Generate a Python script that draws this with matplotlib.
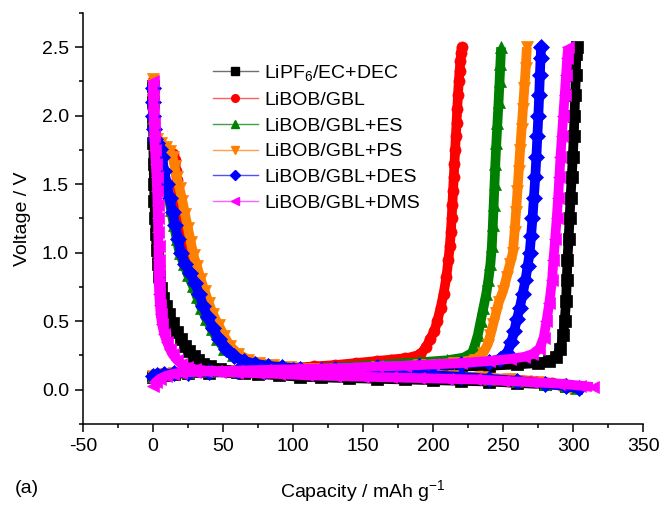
import matplotlib
matplotlib.use("Agg")
import matplotlib.pyplot as plt
from matplotlib.lines import Line2D

plt.rcParams['font.family'] = ['Liberation Sans', 'DejaVu Sans']
plt.rcParams['mathtext.default'] = 'regular'
plt.rcParams['axes.unicode_minus'] = False

labels = ['LiPF$_6$/EC+DEC', 'LiBOB/GBL', 'LiBOB/GBL+ES', 'LiBOB/GBL+PS',
          'LiBOB/GBL+DES', 'LiBOB/GBL+DMS']
colors = ['#000000', '#FF0000', '#008000', '#FF8000', '#0000FF', '#FF00FF']
markers = ['s', 'o', '^', 'v', 'D', '<']

# ---- first discharge (lithiation) branches: capacity (mAh/g), voltage (V)
dis_black_cap = [0, 0, 0.1, 0.3, 0.5, 0.8, 1.1, 1.5, 2, 2.7, 3.5, 4.5, 5.7, 7, 9, 11.5, 14, 17, 20, 23, 26, 29, 32, 36, 41, 48, 56, 65, 75, 90, 105, 120, 140, 160, 180, 200, 220, 240, 260, 280, 295, 302]
dis_black_v = [2.22, 2.1, 1.95, 1.8, 1.65, 1.5, 1.38, 1.25, 1.14, 1.02, 0.92, 0.83, 0.74, 0.67, 0.61, 0.55, 0.49, 0.42, 0.37, 0.32, 0.285, 0.245, 0.215, 0.19, 0.17, 0.15, 0.135, 0.125, 0.115, 0.105, 0.095, 0.09, 0.085, 0.08, 0.075, 0.07, 0.065, 0.06, 0.05, 0.04, 0.03, 0.02]

dis_red_cap = [0, 0, 0.3, 0.7, 1.5, 3, 5, 8, 11, 14, 16, 16.5, 17, 18.5, 20, 22, 24, 26.5, 29, 32, 35, 38, 41, 45, 49, 54, 60, 66, 74, 84, 95, 110, 130, 150, 170, 190, 210, 230, 250, 270, 285, 295]
dis_red_v = [2.25, 2.15, 2.05, 1.95, 1.87, 1.82, 1.79, 1.76, 1.74, 1.72, 1.68, 1.6, 1.53, 1.42, 1.32, 1.2, 1.1, 1.0, 0.9, 0.8, 0.7, 0.61, 0.53, 0.45, 0.38, 0.31, 0.26, 0.22, 0.19, 0.17, 0.16, 0.15, 0.14, 0.13, 0.12, 0.11, 0.1, 0.09, 0.08, 0.065, 0.05, 0.03]

dis_green_cap = [0, 0, 0.3, 0.8, 2, 4, 6, 7.5, 9, 11, 13, 15, 17, 19, 22, 25, 28.5, 31.5, 34.5, 38, 42, 46, 51, 57, 64, 72, 82, 92, 105, 120, 140, 160, 180, 200, 220, 240, 260, 280, 295, 302]
dis_green_v = [2.2, 2.1, 1.98, 1.88, 1.82, 1.78, 1.72, 1.62, 1.52, 1.42, 1.31, 1.2, 1.1, 1.0, 0.92, 0.84, 0.76, 0.68, 0.6, 0.52, 0.44, 0.37, 0.3, 0.25, 0.21, 0.19, 0.175, 0.165, 0.155, 0.145, 0.135, 0.125, 0.115, 0.105, 0.095, 0.08, 0.065, 0.045, 0.025, 0.01]

dis_orange_cap = [0, 0, 0.3, 0.7, 1.5, 3, 6, 9, 12, 14, 15.5, 17, 19, 21, 23, 25, 27, 29, 31.5, 34, 37, 40, 43, 47, 51, 55, 61, 68, 76, 86, 98, 115, 135, 155, 175, 195, 215, 235, 255, 275, 290, 298]
dis_orange_v = [2.27, 2.15, 2.05, 1.95, 1.87, 1.83, 1.8, 1.77, 1.74, 1.7, 1.63, 1.55, 1.47, 1.38, 1.28, 1.18, 1.08, 0.98, 0.9, 0.81, 0.72, 0.63, 0.55, 0.47, 0.39, 0.32, 0.26, 0.22, 0.195, 0.18, 0.165, 0.155, 0.145, 0.135, 0.125, 0.115, 0.1, 0.09, 0.075, 0.055, 0.035, 0.015]

dis_blue_cap = [0, 0, 0.3, 0.7, 1.5, 3, 5, 6.5, 8, 10, 12, 14, 16, 18, 20, 23, 26.5, 30, 33, 36, 39, 43, 47, 52, 58, 65, 73, 82, 92, 105, 120, 140, 160, 180, 200, 220, 240, 260, 280, 295, 304]
dis_blue_v = [2.2, 2.1, 2.0, 1.9, 1.83, 1.8, 1.76, 1.7, 1.6, 1.5, 1.4, 1.3, 1.2, 1.1, 1.0, 0.92, 0.85, 0.78, 0.7, 0.61, 0.53, 0.45, 0.37, 0.3, 0.245, 0.21, 0.19, 0.175, 0.165, 0.155, 0.145, 0.135, 0.125, 0.115, 0.105, 0.095, 0.08, 0.065, 0.045, 0.025, 0.01]

dis_mag_cap = [0, 0, 0.3, 0.6, 1, 1.5, 2, 2.6, 3, 3.3, 3.6, 3.8, 4, 4, 4, 4.2, 4.5, 5, 5.5, 6.5, 8, 10, 12, 14, 17, 20, 24, 30, 38, 48, 60, 75, 90, 110, 130, 150, 170, 190, 210, 230, 250, 270, 290, 305, 314]
dis_mag_v = [2.25, 2.15, 2.05, 1.95, 1.85, 1.75, 1.65, 1.55, 1.45, 1.35, 1.25, 1.15, 1.05, 0.95, 0.87, 0.78, 0.7, 0.62, 0.55, 0.48, 0.41, 0.35, 0.3, 0.26, 0.22, 0.19, 0.165, 0.15, 0.14, 0.13, 0.125, 0.12, 0.115, 0.105, 0.1, 0.095, 0.09, 0.085, 0.08, 0.075, 0.065, 0.055, 0.045, 0.03, 0.02]

# ---- first charge (delithiation) branches
chg_black_cap = [0, 3, 8, 15, 25, 40, 60, 80, 100, 120, 140, 160, 180, 200, 220, 240, 260, 275, 283, 288, 291, 293, 294, 295, 295.5, 296, 296.8, 297.5, 298.2, 299, 299.8, 300.5, 301, 301.5, 302, 302.3, 302.5]
chg_black_v = [0.09, 0.1, 0.11, 0.115, 0.12, 0.125, 0.13, 0.135, 0.14, 0.145, 0.15, 0.155, 0.16, 0.165, 0.17, 0.175, 0.185, 0.195, 0.21, 0.24, 0.3, 0.4, 0.5, 0.65, 0.8, 0.95, 1.1, 1.25, 1.4, 1.55, 1.7, 1.85, 2.0, 2.15, 2.3, 2.45, 2.5]

chg_red_cap = [0, 3, 8, 15, 25, 40, 60, 80, 100, 115, 130, 145, 160, 170, 180, 186, 191, 195, 198, 201, 203, 205.5, 207.5, 209.5, 211, 212, 212.7, 213.3, 213.8, 214.3, 214.8, 215.3, 215.8, 216.3, 216.8, 217.3, 217.8, 218.4, 219, 219.6, 220.1, 220.5]
chg_red_v = [0.1, 0.11, 0.12, 0.125, 0.13, 0.135, 0.14, 0.15, 0.16, 0.17, 0.18, 0.195, 0.21, 0.22, 0.23, 0.24, 0.26, 0.31, 0.37, 0.43, 0.5, 0.6, 0.7, 0.82, 0.95, 1.05, 1.15, 1.25, 1.35, 1.45, 1.55, 1.65, 1.75, 1.85, 1.95, 2.05, 2.15, 2.25, 2.33, 2.4, 2.46, 2.5]

chg_green_cap = [0, 3, 8, 15, 25, 40, 60, 80, 100, 130, 160, 190, 210, 222, 228, 230, 232, 234, 236, 238, 239.5, 241, 242, 242.7, 243.3, 243.9, 244.5, 245.2, 246, 246.8, 247.5, 248.1, 248.6]
chg_green_v = [0.1, 0.11, 0.12, 0.125, 0.13, 0.135, 0.14, 0.145, 0.15, 0.165, 0.18, 0.2, 0.215, 0.235, 0.27, 0.33, 0.4, 0.5, 0.6, 0.7, 0.8, 0.92, 1.05, 1.2, 1.35, 1.5, 1.65, 1.8, 1.95, 2.1, 2.25, 2.38, 2.5]

chg_orange_cap = [0, 3, 8, 15, 25, 40, 60, 80, 100, 130, 160, 190, 215, 230, 236, 239, 241, 243, 245, 247, 250, 252.5, 255, 257, 258.2, 259.3, 260.3, 261.2, 262.2, 263.2, 264.2, 265.2, 266.2, 267]
chg_orange_v = [0.1, 0.11, 0.115, 0.12, 0.125, 0.13, 0.135, 0.14, 0.145, 0.155, 0.165, 0.18, 0.195, 0.22, 0.27, 0.33, 0.4, 0.48, 0.56, 0.64, 0.72, 0.82, 0.92, 1.0, 1.15, 1.3, 1.45, 1.6, 1.75, 1.9, 2.05, 2.2, 2.35, 2.5]

chg_blue_cap = [0, 3, 8, 15, 25, 40, 60, 80, 100, 130, 160, 190, 220, 240, 248, 253, 256, 258, 260, 262, 264, 266, 267.5, 269, 270, 271, 272, 273, 273.8, 274.5, 275.2, 275.8, 276.3, 276.8, 277.2]
chg_blue_v = [0.1, 0.11, 0.115, 0.12, 0.125, 0.13, 0.135, 0.14, 0.145, 0.155, 0.165, 0.175, 0.19, 0.205, 0.225, 0.27, 0.35, 0.43, 0.52, 0.6, 0.7, 0.8, 0.9, 1.0, 1.12, 1.25, 1.4, 1.55, 1.7, 1.85, 2.0, 2.15, 2.3, 2.42, 2.5]

chg_mag_cap = [0, 2, 5, 9, 14, 20, 30, 45, 60, 80, 100, 120, 140, 160, 180, 200, 220, 240, 255, 265, 271, 276, 279, 281, 283, 285, 286, 287.2, 288.3, 289.3, 290.2, 291, 292, 293, 294, 295, 295.8, 296.5]
chg_mag_v = [0.03, 0.055, 0.08, 0.1, 0.115, 0.125, 0.13, 0.135, 0.14, 0.145, 0.15, 0.155, 0.16, 0.17, 0.175, 0.185, 0.195, 0.21, 0.225, 0.24, 0.26, 0.3, 0.38, 0.5, 0.63, 0.8, 0.95, 1.1, 1.25, 1.4, 1.55, 1.7, 1.85, 2.0, 2.15, 2.3, 2.42, 2.5]

discharge = [(dis_black_cap, dis_black_v), (dis_red_cap, dis_red_v),
             (dis_green_cap, dis_green_v), (dis_orange_cap, dis_orange_v),
             (dis_blue_cap, dis_blue_v), (dis_mag_cap, dis_mag_v)]
charge = [(chg_black_cap, chg_black_v), (chg_red_cap, chg_red_v),
          (chg_green_cap, chg_green_v), (chg_orange_cap, chg_orange_v),
          (chg_blue_cap, chg_blue_v), (chg_mag_cap, chg_mag_v)]

fig = plt.figure(figsize=(6.63, 5.07), dpi=100)
ax = fig.add_axes([0.125, 0.1637, 0.845, 0.8107])

for i in range(6):
    c = colors[i]
    for cap, v in (discharge[i], charge[i]):
        ax.plot(cap, v, color=c, lw=7.0, solid_capstyle='butt',
                solid_joinstyle='round', marker=markers[i], ms=8,
                mfc=c, mec=c, mew=0.5, zorder=2 + i)

ax.set_xlim(-50, 350)
ax.set_ylim(-0.25, 2.75)
ax.set_xticks(range(-50, 351, 50))
ax.set_xticks(range(-25, 351, 50), minor=True)
ax.set_yticks([0.0, 0.5, 1.0, 1.5, 2.0, 2.5])
ax.set_yticks([-0.25, 0.25, 0.75, 1.25, 1.75, 2.25, 2.75], minor=True)
ax.set_yticklabels(['0.0', '0.5', '1.0', '1.5', '2.0', '2.5'])
for s in ('top', 'right'):
    ax.spines[s].set_visible(False)
for s in ('left', 'bottom'):
    ax.spines[s].set_linewidth(1.1)
ax.tick_params(which='major', direction='out', length=6, width=1.1,
               labelsize=14, pad=4)
ax.tick_params(which='minor', direction='out', length=3, width=1.1)

ax.set_xlabel('Capacity / mAh g$^{-1}$', fontsize=14, labelpad=17)
ax.set_ylabel('Voltage / V', fontsize=14, labelpad=8)
fig.text(0.022, 0.028, '(a)', fontsize=14)

light = ['#707070', '#FF6060', '#40A040', '#FFA050', '#5050FF', '#FF60FF']
handles = [Line2D([], [], color=light[i], lw=1.0, marker=markers[i], ms=5.5,
                  mfc=colors[i], mec=colors[i]) for i in range(6)]
ax.legend(handles, labels, loc='upper left', bbox_to_anchor=(0.232, 0.878),
          frameon=False, fontsize=14, handlelength=2.3, handletextpad=0.35,
          labelspacing=0.42, borderpad=0, borderaxespad=0)

fig.savefig('out.png', dpi=100)
